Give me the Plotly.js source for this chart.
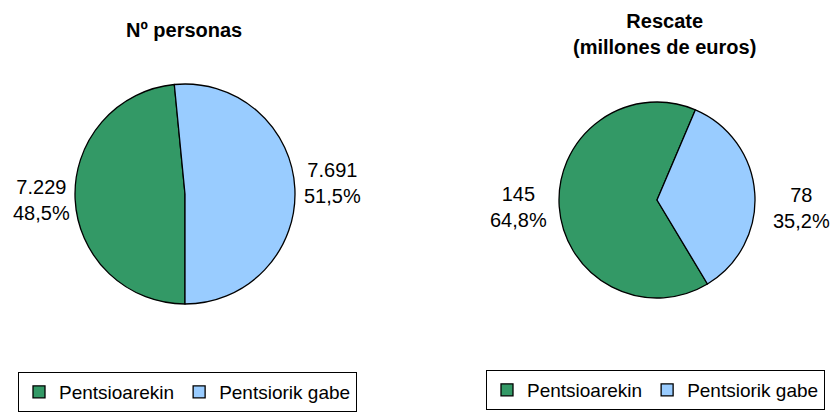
<!DOCTYPE html>
<html>
<head>
<meta charset="utf-8">
<script src="https://cdn.plot.ly/plotly-3.0.1.min.js"></script>
<style>html,body{margin:0;padding:0;background:#fff;}#chart{width:835px;height:414px;}</style>
</head>
<body>
<div id="chart"></div>
<script>
// Data
const categories = ["Pentsioarekin", "Pentsiorik gabe"];
const personasValues = [7229, 7691];
const personasPct = [48.5, 51.5];
const rescateValues = [145, 78];
const rescatePct = [64.8, 35.2];
const titlePersonas = "Nº personas";
const titleRescate = "Rescate<br>(millones de euros)";
const colors = ["#339966", "#99CCFF"];

const W = 835, H = 414;
const FONT = "Liberation Sans, Arial, sans-serif";

function fmtThousands(v) {
  return String(v).replace(/\B(?=(\d{3})+(?!\d))/g, ".");
}
function fmtPct(p) {
  return p.toFixed(1).replace(".", ",") + "%";
}
function px(x) { return x / W; }
function py(y) { return 1 - y / H; }

const pieCommon = {
  type: "pie",
  labels: categories,
  sort: false,
  direction: "clockwise",
  textinfo: "none",
  hoverinfo: "label+value+percent",
  marker: { colors: colors, line: { color: "#000", width: 1.3 } }
};

const trace1 = Object.assign({}, pieCommon, {
  values: personasValues,
  rotation: 180,
  domain: { x: [px(75), px(295)], y: [py(304), py(84)] },
  legend: "legend",
  legendgroup: "g1"
});
const trace2 = Object.assign({}, pieCommon, {
  values: rescateValues,
  rotation: 149,
  domain: { x: [px(559), px(755)], y: [py(298), py(102)] },
  legend: "legend2",
  legendgroup: "g2"
});

function lbl(value, pct, x, y) {
  return {
    xref: "paper", yref: "paper", x: px(x), y: py(y),
    xanchor: "center", yanchor: "middle", showarrow: false, align: "center",
    text: fmtThousands(value) + "<br>" + fmtPct(pct),
    font: { family: FONT, size: 20, color: "#000" }
  };
}

const annotations = [
  { xref: "paper", yref: "paper", x: px(184), y: py(30), xanchor: "center", yanchor: "middle",
    showarrow: false, text: "<b>" + titlePersonas + "</b>", font: { family: FONT, size: 20, color: "#000" } },
  { xref: "paper", yref: "paper", x: px(664), y: py(34), xanchor: "center", yanchor: "middle",
    showarrow: false, text: "<b>" + titleRescate + "</b>", font: { family: FONT, size: 20, color: "#000" } },
  lbl(personasValues[0], personasPct[0], 41, 200),
  lbl(personasValues[1], personasPct[1], 332, 183),
  lbl(rescateValues[0], rescatePct[0], 518, 207),
  lbl(rescateValues[1], rescatePct[1], 801, 208)
];

const legendStyle = {
  orientation: "h",
  xanchor: "left", yanchor: "bottom",
  traceorder: "normal",
  bordercolor: "#000", borderwidth: 1,
  bgcolor: "#fff",
  font: { family: FONT, size: 19, color: "#000" },
  itemwidth: 30, tracegroupgap: 0
};

const layout = {
  width: W, height: H,
  margin: { l: 0, r: 0, t: 0, b: 0 },
  paper_bgcolor: "#fff",
  showlegend: true,
  legend: Object.assign({}, legendStyle, { x: px(18), y: py(412) }),
  legend2: Object.assign({}, legendStyle, { x: px(486), y: py(410) }),
  annotations: annotations
};

Plotly.newPlot("chart", [trace1, trace2], layout, { staticPlot: true });
</script>
</body>
</html>
